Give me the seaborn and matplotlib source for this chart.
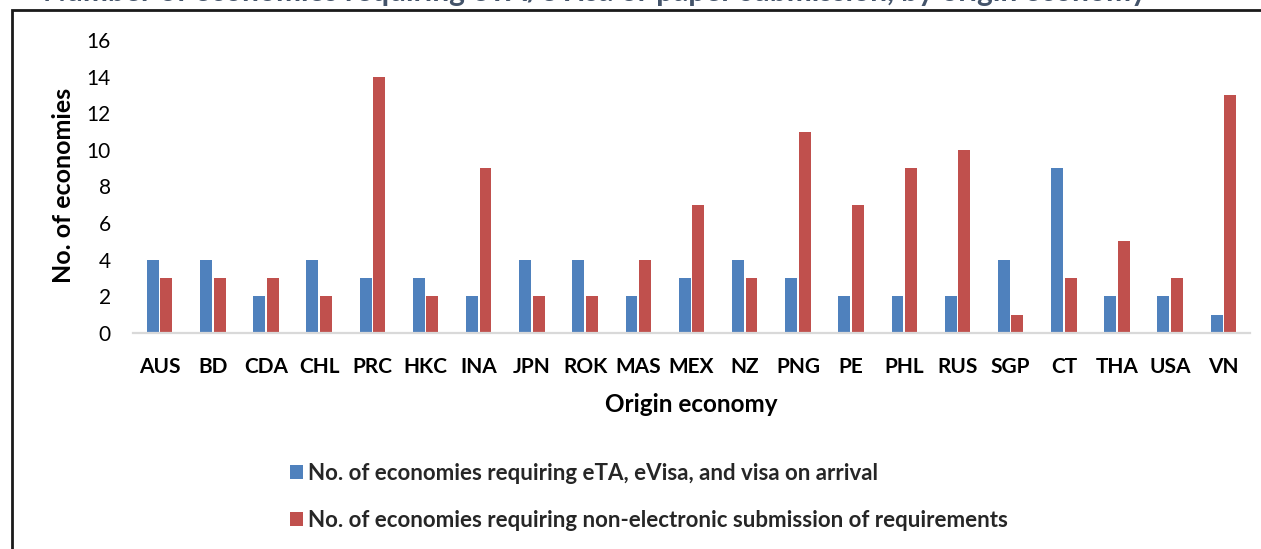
import matplotlib
matplotlib.use("Agg")
import matplotlib.pyplot as plt
import pandas as pd
import seaborn as sns
from matplotlib.patches import Rectangle

# Origin economies and the two counts per economy
economies = ["AUS", "BD", "CDA", "CHL", "PRC", "HKC", "INA", "JPN", "ROK", "MAS", "MEX",
             "NZ", "PNG", "PE", "PHL", "RUS", "SGP", "CT", "THA", "USA", "VN"]
electronic = [4, 4, 2, 4, 3, 3, 2, 4, 4, 2, 3, 4, 3, 2, 2, 2, 4, 9, 2, 2, 1]
non_electronic = [3, 3, 3, 2, 14, 2, 9, 2, 2, 4, 7, 3, 11, 7, 9, 10, 1, 3, 5, 3, 13]
series_names = [
    "No. of economies requiring eTA, eVisa, and visa on arrival",
    "No. of economies requiring non-electronic submission of requirements",
]
y_ticks = [0, 2, 4, 6, 8, 10, 12, 14, 16]
title_text = "Number of economies requiring eTA/eVisa or paper submission, by origin economy"

BLUE = "#4F81BD"
RED = "#C0504D"

sns.set_theme(style="white")
plt.rcParams["font.family"] = ["Lato", "DejaVu Sans"]

df = pd.DataFrame({
    "Origin economy": economies * 2,
    "count": electronic + non_electronic,
    "series": [series_names[0]] * len(economies) + [series_names[1]] * len(economies),
})

W, H = 1261, 549
fig = plt.figure(figsize=(W / 100, H / 100), dpi=100)
ax = fig.add_axes([133 / W, 216 / H, 1117 / W, 293 / H])

sns.barplot(data=df, x="Origin economy", y="count", hue="series",
            hue_order=series_names, palette=[BLUE, RED], saturation=1,
            width=0.51, gap=0.12, linewidth=0, ax=ax)

handles, labels = ax.get_legend_handles_labels()
ax.get_legend().remove()

ax.set_ylim(0, 16)
ax.set_xlim(-0.5, len(economies) - 0.5)
ax.set_yticks(y_ticks)
ax.set_yticklabels([str(t) for t in y_ticks])
ax.tick_params(axis="y", length=0, pad=16, labelsize=15, labelcolor="#000000")
ax.tick_params(axis="x", length=0, pad=17, labelsize=15, labelcolor="#000000")
for lbl in ax.get_xticklabels():
    lbl.set_fontweight("bold")

for side in ("top", "right", "left"):
    ax.spines[side].set_visible(False)
ax.spines["bottom"].set_color("#D9D9D9")
ax.spines["bottom"].set_linewidth(1.6)

ax.set_xlabel("Origin economy", fontsize=17.5, fontweight="bold", color="#000000")
ax.xaxis.set_label_coords(0.5, -0.205)
ax.set_ylabel("No. of economies", fontsize=18, fontweight="bold", color="#000000")
ax.yaxis.set_label_coords(-0.052, 0.505)

fig.legend(handles, labels, loc="upper left", bbox_to_anchor=(270 / W, 1 - 443 / H),
           frameon=False, prop={"weight": "bold", "size": 16},
           handlelength=0.6, handleheight=0.6, handletextpad=0.2, labelspacing=1.15)

# chart frame and the heading above it
fig.patches.append(Rectangle((12 / W, -0.2), 1.2, 1.2 - 10 / H,
                             transform=fig.transFigure, fill=False,
                             edgecolor="#1a1a1a", linewidth=2, zorder=5))
fig.text(595 / W, 1 - 1 / H, title_text, ha="center", va="baseline",
         fontsize=21.5, fontweight="bold", color="#44546A")

fig.savefig("out.png", dpi=100)
